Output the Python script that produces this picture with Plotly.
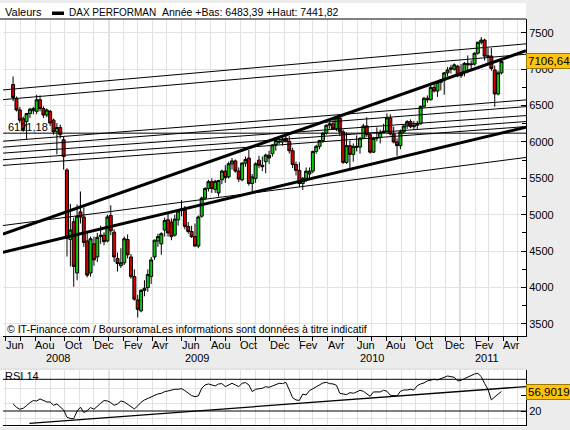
import plotly.graph_objects as go
import pandas as pd

W, H = 570, 430
FONT = "Liberation Sans, Arial, sans-serif"

# weekly candles, one per week starting Monday 2008-06-16
weeks = pd.date_range("2008-06-16", periods=146, freq="7D")

opens = [6790, 6600, 6440, 6320, 6280, 6390, 6430, 6420, 6580, 6460,
         6370, 6420, 6300, 6140, 6200, 6030, 5615, 4660, 4905, 4200,
         5040, 4970, 4640, 4200, 4600, 4420, 4700, 4720, 4640, 4990,
         4760, 4400, 4300, 4340, 4660, 4420, 4150, 3830, 3680, 3960,
         4000, 4150, 4420, 4640, 4600, 4790, 4930, 4900, 4720, 4930,
         5060, 5060, 4840, 4770, 4700, 4570, 4980, 5230, 5360, 5455,
         5350, 5300, 5480, 5600, 5520, 5700, 5740, 5600, 5480, 5710,
         5780, 5430, 5500, 5750, 5680, 5730, 5820, 5840, 5960, 6010,
         6000, 6050, 6010, 5880, 5690, 5610, 5430, 5500, 5560, 5600,
         5870, 5940, 6020, 6120, 6230, 6250, 6180, 6330, 6140, 5720,
         5950, 5830, 5940, 5930, 6050, 6220, 6100, 5860, 6050, 6060,
         6130, 6150, 6330, 6110, 6000, 5950, 6140, 6220, 6280, 6210,
         6230, 6250, 6490, 6600, 6580, 6750, 6700, 6820, 6850, 6950,
         7020, 7000, 7040, 6910, 6960, 7080, 7060, 7070, 7220, 7370,
         7400, 7180, 7180, 6990, 6660, 6950]
highs = [6900, 6625, 6480, 6350, 6400, 6470, 6485, 6650, 6640, 6490,
         6460, 6440, 6320, 6260, 6240, 6070, 5640, 5150, 4960, 5140,
         5320, 5100, 4760, 4700, 4700, 4750, 4850, 4760, 5000, 5130,
         4800, 4480, 4540, 4700, 4730, 4460, 4250, 3900, 3980, 4100,
         4250, 4420, 4660, 4740, 4760, 4960, 5020, 4950, 5000, 5070,
         5200, 5120, 4900, 4850, 4880, 4990, 5250, 5380, 5480, 5500,
         5480, 5480, 5620, 5680, 5730, 5780, 5760, 5650, 5720, 5800,
         5890, 5560, 5720, 5810, 5800, 5840, 5880, 5970, 6040, 6050,
         6060, 6110, 6080, 5920, 5730, 5720, 5520, 5650, 5650, 5880,
         5960, 6030, 6140, 6240, 6280, 6340, 6340, 6380, 6170, 6130,
         6020, 5980, 6090, 6070, 6250, 6340, 6120, 6070, 6200, 6170,
         6250, 6390, 6380, 6210, 6050, 6170, 6240, 6300, 6310, 6290,
         6290, 6500, 6620, 6640, 6780, 6800, 6830, 6860, 6960, 7030,
         7060, 7080, 7060, 7070, 7100, 7190, 7120, 7230, 7380, 7441.82,
         7420, 7290, 7290, 7050, 6980, 7140]
lows = [6560, 6420, 6260, 6140, 6030, 6330, 6380, 6380, 6420, 6330,
        6340, 6220, 6100, 5830, 6050, 5620, 4425, 4290, 4010, 4100,
        4880, 4560, 4140, 4150, 4300, 4350, 4600, 4580, 4620, 4720,
        4350, 4220, 4270, 4310, 4400, 4120, 3820, 3590, 3660, 3880,
        3940, 4050, 4380, 4560, 4450, 4700, 4700, 4650, 4700, 4850,
        4980, 4800, 4740, 4680, 4560, 4540, 4960, 5200, 5320, 5300,
        5300, 5250, 5420, 5440, 5500, 5620, 5580, 5450, 5460, 5660,
        5400, 5320, 5440, 5640, 5600, 5570, 5700, 5800, 5880, 5970,
        5950, 5990, 5840, 5640, 5540, 5380, 5340, 5450, 5500, 5570,
        5840, 5900, 5990, 6100, 6180, 6170, 6150, 6080, 5700, 5700,
        5620, 5730, 5870, 5840, 6040, 6070, 5840, 5850, 6010, 5980,
        6120, 6120, 6090, 5980, 5810, 5900, 6110, 6180, 6190, 6170,
        6170, 6240, 6470, 6540, 6570, 6680, 6620, 6710, 6650, 6900,
        6940, 6980, 6890, 6880, 6900, 6980, 7000, 7050, 7200, 7340,
        7120, 7060, 6980, 6483.39, 6640, 6930]
closes = [6610, 6440, 6300, 6170, 6390, 6450, 6460, 6580, 6460, 6370,
          6440, 6260, 6140, 6200, 6100, 5800, 4676, 4790, 4290, 4980,
          4970, 4620, 4170, 4670, 4380, 4690, 4720, 4630, 4970, 4780,
          4420, 4330, 4340, 4670, 4450, 4150, 3840, 3700, 3960, 3990,
          4180, 4380, 4650, 4700, 4740, 4920, 4750, 4700, 4940, 5050,
          5080, 4840, 4770, 4700, 4570, 4970, 5230, 5360, 5455, 5360,
          5460, 5470, 5600, 5510, 5700, 5740, 5600, 5490, 5710, 5760,
          5430, 5520, 5700, 5680, 5660, 5820, 5780, 5960, 6020, 6000,
          6040, 6010, 5880, 5690, 5610, 5430, 5500, 5600, 5600, 5870,
          5940, 6020, 6120, 6230, 6250, 6180, 6330, 6140, 5720, 5950,
          5830, 5940, 5930, 6050, 6220, 6100, 5860, 6050, 6060, 6130,
          6150, 6330, 6110, 6000, 5950, 6140, 6220, 6280, 6210, 6230,
          6250, 6490, 6600, 6580, 6750, 6700, 6820, 6850, 6950, 6990,
          7000, 7060, 6910, 6950, 7080, 7060, 7070, 7220, 7370, 7400,
          7180, 7180, 7010, 6660, 6950, 7106.64]

rsi14 = [33.4, 27.1, 23.3, 25.2, 30.2, 35.9, 39.7, 39.0, 42.8, 39.7,
         37.1, 37.1, 30.8, 33.4, 28.3, 22.0, 8.0, 6.0, 5.5, 20.0,
         27.1, 17.0, 20.7, 26.5, 23.3, 29.6, 34.6, 39.7, 39.0, 35.9,
         30.8, 33.4, 39.0, 37.1, 32.7, 28.3, 23.9, 29.6, 36.5, 40.9,
         44.1, 47.2, 49.8, 52.3, 53.5, 56.7, 57.9, 59.8, 61.1, 61.1,
         62.3, 58.6, 53.5, 49.1, 47.2, 48.5, 63.0, 69.3, 71.2, 69.3,
         67.4, 71.2, 71.8, 66.1, 69.3, 72.4, 69.3, 66.1, 72.4, 73.7,
         69.3, 56.7, 61.1, 61.7, 63.0, 66.1, 64.8, 67.4, 69.3, 72.4,
         71.8, 74.3, 60.0, 45.0, 40.9, 40.0, 52.0, 50.4, 58.6, 62.3,
         65.5, 68.7, 73.1, 74.3, 71.8, 71.2, 68.7, 53.5, 52.3, 51.0,
         54.8, 53.5, 56.1, 59.2, 57.3, 51.7, 47.8, 56.1, 55.4, 56.1,
         59.2, 57.3, 49.8, 49.8, 48.5, 57.3, 59.8, 59.8, 61.1, 59.8,
         68.0, 71.2, 73.1, 76.9, 78.7, 80.0, 78.7, 81.2, 84.4, 86.3,
         85.0, 83.8, 76.9, 78.1, 81.2, 84.4, 87.5, 90.0, 91.3, 85.0,
         72.0, 61.0, 41.0, 47.0, 52.0, 56.9019]

# drawn trendlines, from left edge to right edge of the chart
line_dates = ["2008-05-26", "2011-05-18"]
channel_top = [4733, 7254]
channel_bottom = [4486, 6203]
thin_lines = [
    [6715, 7349],
    [6582, 7206],
    [6011, 6578],
    [5929, 6486],
    [5847, 6363],
    [5756, 6281],
    [5678, 6212],
    [4852, 5788],
]
support_level = 6121.18

rsi_trend_dates = ["2008-07-20", "2011-05-18"]
rsi_trend = [-3.3, 66.3]
rsi_levels = [20, 80]

month_ticks = pd.date_range("2008-06-01", "2011-04-01", freq="2MS")
month_names = {2: "Fev", 4: "Avr", 6: "Jun", 8: "Aou", 10: "Oct", 12: "Dec"}
year_labels = [("2008", 58), ("2009", 197), ("2010", 372), ("2011", 487)]


def px(x):
    return x / W


def py(y):
    return 1 - y / H


x_dom = [px(3), px(526)]
main_dom = [py(336), py(19)]
rsi_dom = [py(425), py(370)]
x_range = ["2008-05-26", "2011-05-18"]
GRID = "#e2e2e2"

fig = go.Figure()

fig.add_trace(go.Candlestick(
    x=weeks, open=opens, high=highs, low=lows, close=closes,
    increasing=dict(fillcolor="#10c810", line=dict(color="black", width=1)),
    decreasing=dict(fillcolor="#d00000", line=dict(color="black", width=1)),
    whiskerwidth=0, showlegend=False, hoverinfo="skip",
))

for vals in thin_lines:
    fig.add_trace(go.Scatter(x=line_dates, y=vals, mode="lines",
                             line=dict(color="black", width=1), showlegend=False))
fig.add_trace(go.Scatter(x=line_dates, y=[support_level] * 2, mode="lines",
                         line=dict(color="black", width=1), showlegend=False))
for vals in (channel_top, channel_bottom):
    fig.add_trace(go.Scatter(x=line_dates, y=vals, mode="lines",
                             line=dict(color="black", width=3), showlegend=False))

# RSI panel
for lvl in rsi_levels:
    fig.add_trace(go.Scatter(x=line_dates, y=[lvl, lvl], mode="lines", xaxis="x2", yaxis="y2",
                             line=dict(color="black", width=1), showlegend=False))
fig.add_trace(go.Scatter(x=rsi_trend_dates, y=rsi_trend, mode="lines", xaxis="x2", yaxis="y2",
                         line=dict(color="black", width=1.3), showlegend=False))
fig.add_trace(go.Scatter(x=weeks, y=rsi14, mode="lines", xaxis="x2", yaxis="y2",
                         line=dict(color="black", width=1), showlegend=False))

tickfont = dict(family=FONT, size=11, color="black")

fig.update_layout(
    width=W, height=H,
    margin=dict(l=0, r=0, t=0, b=0),
    paper_bgcolor="#ececec", plot_bgcolor="white",
    font=dict(family=FONT, size=11, color="black"),
    showlegend=False,
    boxgap=0.12, boxgroupgap=0,
    xaxis=dict(
        domain=x_dom, range=x_range, type="date", anchor="y",
        tickmode="array", tickvals=list(month_ticks), showticklabels=False,
        ticks="outside", ticklen=4, tickcolor="black",
        showgrid=True, gridcolor=GRID,
        minor=dict(dtick="M1", tick0="2008-01-01", ticks="outside", ticklen=4,
                   tickcolor="black", showgrid=True, gridcolor=GRID),
        showline=True, linecolor="black", linewidth=1,
        rangeslider=dict(visible=False),
    ),
    yaxis=dict(
        domain=main_dom, range=[3334, 7690], side="right", anchor="x",
        tick0=0, dtick=500, ticks="inside", ticklen=5, tickcolor="black",
        tickfont=tickfont, showgrid=True, gridcolor=GRID, zeroline=False,
        minor=dict(dtick=250, tick0=0, ticks="inside", ticklen=4, tickcolor="black",
                   showgrid=False),
        showline=True, linecolor="black", linewidth=1,
    ),
    xaxis2=dict(
        domain=x_dom, range=x_range, type="date", anchor="y2", matches="x",
        showticklabels=False, ticks="", showgrid=True, gridcolor=GRID,
        tickmode="array", tickvals=list(month_ticks),
        minor=dict(dtick="M1", tick0="2008-01-01", showgrid=True, gridcolor=GRID),
        showline=True, linecolor="black", linewidth=1,
        rangeslider=dict(visible=False),
    ),
    yaxis2=dict(
        domain=rsi_dom, range=[-6.5, 97.6], side="right", anchor="x2",
        tickmode="array", tickvals=[20, 49, 97], ticktext=["20", "", ""],
        ticks="inside", ticklen=5, tickcolor="black", tickfont=tickfont,
        showgrid=False, zeroline=False,
        minor=dict(tickmode="array", tickvals=[6, 35, 62], showgrid=True, gridcolor=GRID, ticks=""),
        showline=True, linecolor="black", linewidth=1,
    ),
)

shapes = [
    # white panels
    dict(type="rect", xref="paper", yref="paper", x0=0, x1=px(526), y0=py(336), y1=py(3),
         fillcolor="white", line=dict(width=0), layer="below"),
    dict(type="rect", xref="paper", yref="paper", x0=0, x1=px(526), y0=py(427), y1=py(368),
         fillcolor="white", line=dict(width=0), layer="below"),
    # header rule
    dict(type="line", xref="paper", yref="paper", x0=0, x1=px(526), y0=py(19), y1=py(19),
         line=dict(color="black", width=1)),
    dict(type="line", xref="paper", yref="paper", x0=0, x1=px(526), y0=py(369), y1=py(369),
         line=dict(color="#c8c8c8", width=1)),
    # legend swatch
    dict(type="rect", xref="paper", yref="paper", x0=px(52), x1=px(64), y0=py(15), y1=py(11.5),
         fillcolor="black", line=dict(width=0)),
]
for yr in ["2009-01-01", "2010-01-01", "2011-01-01"]:
    for xr, dom in (("x", main_dom), ("x2", rsi_dom)):
        shapes.append(dict(type="line", xref=xr, yref="paper", x0=yr, x1=yr,
                           y0=dom[0], y1=dom[1], layer="between",
                           line=dict(color="#a8a8a8", width=1)))
fig.update_layout(shapes=shapes)

yr_lows = [l for d, l in zip(weeks, lows) if d.year == 2011]
yr_highs = [h for d, h in zip(weeks, highs) if d.year == 2011]


def fr(v, n=2):
    return f"{v:.{n}f}".replace(".", ",")


ann = [
    dict(x=px(3), y=py(12), text="Valeurs", xanchor="left"),
    dict(x=px(67), y=py(12), text="DAX PERFORMAN", xanchor="left",
         font=dict(family=FONT, size=10, color="black")),
    dict(x=px(160), y=py(12),
         text=f"Année +Bas: {fr(min(yr_lows))} +Haut: {fr(max(yr_highs))}", xanchor="left",
         font=dict(family=FONT, size=10.5, color="black")),
    dict(x=px(5), y=py(329), text="© IT-Finance.com / BoursoramaLes informations sont données à titre indicatif",
         xanchor="left", font=dict(family=FONT, size=10.5, color="black")),
    dict(x=px(6), y=py(127), text=fr(support_level), xanchor="left"),
    dict(x=px(3), y=py(376), text="RSI 14", xanchor="left"),
]
for txt, xc in year_labels:
    ann.append(dict(x=px(xc), y=py(358), text=txt, xanchor="center"))
for a in ann:
    a.update(xref="paper", yref="paper", showarrow=False, yanchor="middle")
    a.setdefault("font", dict(family=FONT, size=11, color="black"))

# month labels, left-aligned on their tick
for d in month_ticks:
    ann.append(dict(xref="x", yref="paper", x=d, y=py(345), text=month_names[d.month],
                    xanchor="left", yanchor="middle", xshift=-2, showarrow=False,
                    font=dict(family=FONT, size=11, color="black")))

ann.append(dict(xref="paper", yref="y", x=px(526), y=closes[-1], text=fr(closes[-1]),
                xanchor="left", yanchor="middle", showarrow=False,
                bgcolor="#ffc30f", bordercolor="#9a7a00", borderwidth=1, borderpad=1,
                font=dict(family=FONT, size=11.5, color="black")))
ann.append(dict(xref="paper", yref="y2", x=px(526), y=rsi14[-1], text=fr(rsi14[-1], 4),
                xanchor="left", yanchor="middle", showarrow=False,
                bgcolor="#ffc30f", bordercolor="#9a7a00", borderwidth=1, borderpad=1,
                font=dict(family=FONT, size=11.5, color="black")))
fig.update_layout(annotations=ann)

fig.write_html("out.html", config={"displayModeBar": False},
               post_script="document.body.style.margin='0';document.body.style.overflow='hidden';")
